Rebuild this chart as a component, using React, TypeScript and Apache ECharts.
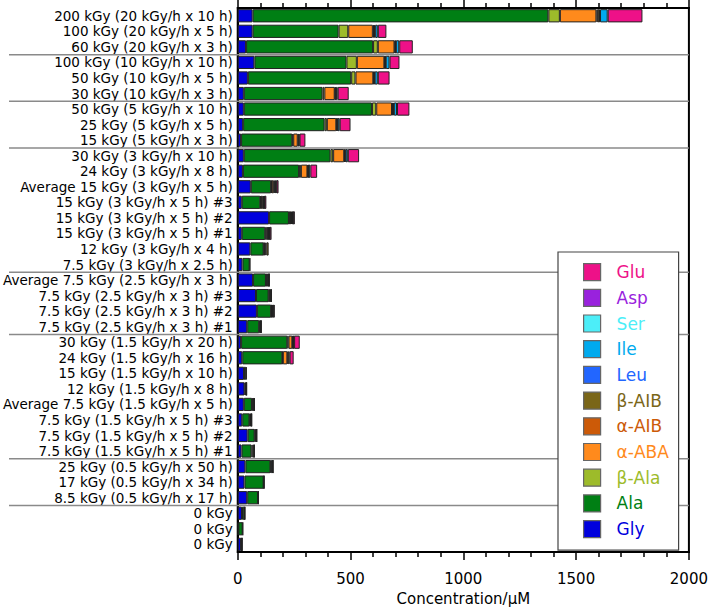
import React, { useEffect, useRef } from "react";
import * as echarts from "echarts";

const categories = [
  "200 kGy (20 kGy/h x 10 h)",
  "100 kGy (20 kGy/h x 5 h)",
  "60 kGy (20 kGy/h x 3 h)",
  "100 kGy (10 kGy/h x 10 h)",
  "50 kGy (10 kGy/h x 5 h)",
  "30 kGy (10 kGy/h x 3 h)",
  "50 kGy (5 kGy/h x 10 h)",
  "25 kGy (5 kGy/h x 5 h)",
  "15 kGy (5 kGy/h x 3 h)",
  "30 kGy (3 kGy/h x 10 h)",
  "24 kGy (3 kGy/h x 8 h)",
  "Average 15 kGy (3 kGy/h x 5 h)",
  "15 kGy (3 kGy/h x 5 h) #3",
  "15 kGy (3 kGy/h x 5 h) #2",
  "15 kGy (3 kGy/h x 5 h) #1",
  "12 kGy (3 kGy/h x 4 h)",
  "7.5 kGy (3 kGy/h x 2.5 h)",
  "Average 7.5 kGy (2.5 kGy/h x 3 h)",
  "7.5 kGy (2.5 kGy/h x 3 h) #3",
  "7.5 kGy (2.5 kGy/h x 3 h) #2",
  "7.5 kGy (2.5 kGy/h x 3 h) #1",
  "30 kGy (1.5 kGy/h x 20 h)",
  "24 kGy (1.5 kGy/h x 16 h)",
  "15 kGy (1.5 kGy/h x 10 h)",
  "12 kGy (1.5 kGy/h x 8 h)",
  "Average 7.5 kGy (1.5 kGy/h x 5 h)",
  "7.5 kGy (1.5 kGy/h x 5 h) #3",
  "7.5 kGy (1.5 kGy/h x 5 h) #2",
  "7.5 kGy (1.5 kGy/h x 5 h) #1",
  "25 kGy (0.5 kGy/h x 50 h)",
  "17 kGy (0.5 kGy/h x 34 h)",
  "8.5 kGy (0.5 kGy/h x 17 h)",
  "0 kGy",
  "0 kGy",
  "0 kGy",
];

// group separators: a line is drawn before these category indices
const groupStarts = [3, 6, 9, 17, 21, 29, 32];

const gly = [66, 66, 37, 74, 45, 27, 27, 24, 15, 27, 23, 58, 18, 139, 18, 56, 21, 68, 81, 85, 42, 15, 20, 28, 30, 27, 20, 44, 17, 34, 30, 42, 19, 3, 15];
const ala = [1311, 381, 563, 408, 458, 349, 568, 361, 227, 384, 249, 90, 82, 88, 104, 59, 32, 57, 56, 63, 53, 205, 178, 8, 4, 36, 32, 31, 44, 111, 85, 48, 10, 19, 2];
const bAla = [51, 43, 21, 46, 19, 8, 19, 10, 4, 12, 8, 3, 3, 3, 5, 2, 0, 0, 0, 0, 0, 5, 2, 0, 0, 0, 0, 0, 0, 0, 0, 0, 0, 0, 0];
const aABA = [162, 109, 74, 122, 79, 46, 70, 42, 20, 49, 29, 9, 8, 6, 5, 5, 0, 0, 0, 0, 0, 17, 20, 0, 0, 0, 0, 0, 0, 0, 0, 0, 0, 0, 0];
const aAIB = [6, 5, 3, 3, 3, 3, 4, 3, 4, 3, 3, 4, 3, 4, 3, 5, 0, 3, 3, 3, 0, 3, 4, 0, 0, 3, 3, 3, 5, 0, 0, 0, 0, 0, 0];
const bAIB = [10, 5, 3, 3, 3, 3, 4, 3, 4, 3, 2, 5, 3, 5, 4, 10, 2, 5, 5, 5, 5, 3, 6, 0, 3, 5, 4, 4, 7, 0, 0, 0, 2, 0, 0];
const leu = [0, 0, 0, 0, 0, 0, 0, 0, 0, 0, 0, 0, 0, 0, 0, 0, 0, 3, 0, 0, 0, 0, 0, 0, 0, 0, 0, 0, 0, 0, 0, 0, 0, 0, 0];
const ile = [34, 12, 15, 17, 14, 7, 14, 9, 0, 10, 8, 0, 0, 0, 0, 0, 0, 0, 0, 0, 0, 2, 0, 0, 0, 0, 0, 0, 0, 3, 0, 0, 0, 0, 0];
const ser = [0, 0, 0, 0, 0, 0, 0, 0, 0, 0, 0, 0, 0, 0, 0, 0, 0, 0, 0, 0, 0, 0, 0, 0, 0, 0, 0, 0, 0, 6, 0, 0, 0, 0, 0];
const asp = [0, 0, 0, 0, 0, 0, 0, 0, 0, 0, 0, 3, 2, 2, 3, 0, 0, 3, 3, 3, 3, 0, 0, 0, 2, 2, 2, 2, 2, 2, 1, 1, 2, 1, 2];
const glu = [154, 38, 60, 44, 52, 49, 55, 48, 26, 50, 30, 9, 8, 6, 8, 0, 0, 2, 3, 5, 3, 25, 18, 4, 1, 2, 2, 1, 0, 1, 2, 2, 0, 0, 1];

const seriesNames = ["Gly", "Ala", "β-Ala", "α-ABA", "α-AIB", "β-AIB", "Leu", "Ile", "Ser", "Asp", "Glu"];
const seriesValues = [gly, ala, bAla, aABA, aAIB, bAIB, leu, ile, ser, asp, glu];
const seriesColors = ["#0000DD", "#007F14", "#9DBB2A", "#FF8A1C", "#CC5A08", "#7A6618", "#2266FF", "#00AAEE", "#4CEEF8", "#9922DD", "#EE1188"];

const xTicks = { min: 0, max: 2000, interval: 500 };

const FONT = "DejaVu Sans, Verdana, sans-serif";

export default function App() {
  const ref = useRef<HTMLDivElement>(null);
  useEffect(() => {
    document.body.style.margin = "0";
    if (!ref.current) return;
    const chart = echarts.init(ref.current, undefined, { renderer: "svg" });

    const axisCommon = {
      type: "value",
      min: xTicks.min,
      max: xTicks.max,
      interval: xTicks.interval,
      axisLine: { show: true, lineStyle: { color: "#000", width: 2 } },
      axisTick: { show: true, length: 8, lineStyle: { color: "#000", width: 1.5 } },
      minorTick: { show: true, splitNumber: 5, length: 5, lineStyle: { color: "#000", width: 1.5 } },
      splitLine: { show: false },
      minorSplitLine: { show: false },
    };

    chart.setOption({
      animation: false,
      textStyle: { fontFamily: FONT },
      grid: {
        left: 235,
        right: 19,
        top: 8,
        bottom: 54,
        show: true,
        borderColor: "#000",
        borderWidth: 2,
        backgroundColor: "transparent",
      },
      legend: {
        orient: "vertical",
        left: 558,
        top: 252,
        z: 10,
        icon: "rect",
        itemWidth: 17,
        itemHeight: 17,
        itemGap: 7.5,
        padding: [11, 9, 12, 25],
        borderColor: "#444",
        borderWidth: 1.2,
        backgroundColor: "#fff",
        itemStyle: { borderColor: "#666", borderWidth: 1.2 },
        textStyle: {
          fontSize: 17,
          lineHeight: 17,
          fontFamily: FONT,
          width: 53,
          padding: [0, 0, 0, 11],
        },
        data: seriesNames
          .map((n, i) => ({ name: n, textStyle: { color: seriesColors[i] } }))
          .reverse(),
      },
      xAxis: [
        {
          ...axisCommon,
          position: "bottom",
          axisLabel: {
            fontSize: 15,
            color: "#000",
            margin: 19,
            fontFamily: FONT,
            formatter: (v: number) => String(v),
          },
          name: "Concentration/μM",
          nameLocation: "middle",
          nameGap: 38,
          nameTextStyle: { fontSize: 15, color: "#000", fontFamily: FONT },
        },
        {
          ...axisCommon,
          position: "top",
          axisLabel: { show: false },
        },
      ],
      yAxis: {
        type: "category",
        inverse: true,
        data: categories,
        axisLine: { show: true, lineStyle: { color: "#000", width: 2 } },
        axisTick: { show: false },
        axisLabel: { fontSize: 13.5, color: "#000", margin: 5, fontFamily: FONT, interval: 0 },
      },
      series: seriesNames.map((name, i) => ({
        name,
        type: "bar",
        stack: "total",
        xAxisIndex: 0,
        barCategoryGap: "15%",
        itemStyle: { color: seriesColors[i], borderColor: "#222", borderWidth: 1 },
        data: seriesValues[i].map((v) => (v === 0 ? "-" : v)),
      })),
    });

    const xRight = chart.convertToPixel({ xAxisIndex: 0 }, xTicks.max) as number;
    const lines = groupStarts.map((k) => {
      const a = chart.convertToPixel({ yAxisIndex: 0 }, k - 1) as number;
      const b = chart.convertToPixel({ yAxisIndex: 0 }, k) as number;
      const y = (a + b) / 2;
      return {
        type: "line",
        z: 1,
        shape: { x1: 9, y1: y, x2: xRight, y2: y },
        style: { stroke: "#8a8a8a", lineWidth: 1.5 },
      };
    });
    chart.setOption({ graphic: lines });

    return () => chart.dispose();
  }, []);
  return <div ref={ref} style={{ width: 711, height: 611 }} />;
}
